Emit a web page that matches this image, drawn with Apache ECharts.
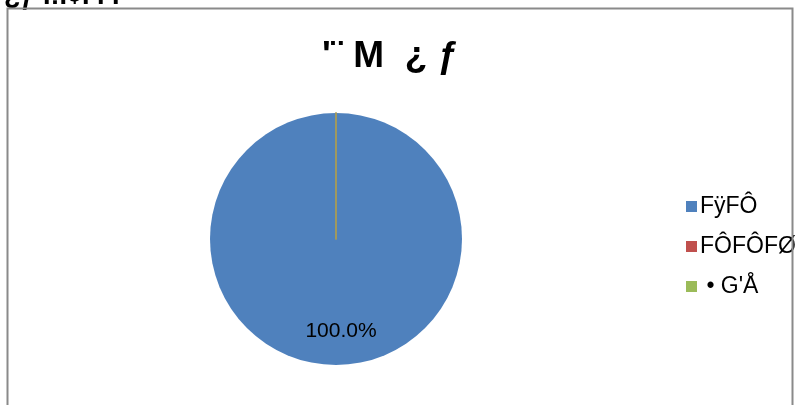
<!DOCTYPE html>
<html>
<head>
<meta charset="utf-8">
<script src="https://cdn.jsdelivr.net/npm/echarts@6/dist/echarts.min.js"></script>
<style>
  html, body { margin: 0; padding: 0; background: #fff; }
  #main { width: 796px; height: 405px; }
</style>
</head>
<body>
<div id="main"></div>
<script>
var categories = ["FÿFÔ", "FÔFÔFØ", " • G'Å"];
var values = [100, 0, 0];
var colors = ['#4f81bd', '#c0504d', '#9bbb59'];

var myChart = echarts.init(document.getElementById("main"));
var option = {
    animation: false,
    backgroundColor: '#fff',
    textStyle: { fontFamily: 'Liberation Sans' },
    title: {
        text: "'¨ M  ¿ ƒ",
        left: 385,
        top: 33,
        textAlign: 'center',
        textStyle: { fontSize: 37, fontWeight: 'bold', color: '#000', fontFamily: 'Liberation Sans' }
    },
    legend: {
        orient: 'vertical',
        left: 681,
        top: 190,
        itemWidth: 11,
        itemHeight: 11,
        itemGap: 17,
        icon: 'rect',
        itemStyle: { borderWidth: 0 },
        textStyle: { fontSize: 23, color: '#000', padding: [0, 0, 0, -2] },
        data: categories
    },
    graphic: [
        {   // outer chart frame
            type: 'rect',
            shape: { x: 7.5, y: 8.5, width: 785, height: 420 },
            style: { fill: null, stroke: '#8a8a8a', lineWidth: 2 },
            z: 10
        },
        {   // cut-off sheet heading above frame
            type: 'text',
            left: 4,
            top: -17,
            style: { text: '¿ƒ Ì:Ì¢Ì Ì Ì', fontSize: 27, fontWeight: 'bold', fill: '#000', fontFamily: 'Liberation Sans' }
        }
    ],
    series: [{
        name: 'pie',
        type: 'pie',
        center: [336, 239],
        radius: 126,
        startAngle: 90,
        clockwise: true,
        avoidLabelOverlap: false,
        label: {
            show: true,
            position: 'inside',
            offset: [5, 26],
            fontSize: 21,
            color: '#000',
            formatter: function (p) {
                return p.value > 0 ? p.percent.toFixed(1) + '%' : '';
            }
        },
        labelLine: { show: false },
        emphasis: { disabled: true },
        data: categories.map(function (c, i) {
            return {
                name: c,
                value: values[i],
                itemStyle: {
                    color: colors[i],
                    borderColor: values[i] > 0 ? colors[i] : '#a59a5a',
                    borderWidth: values[i] > 0 ? 0 : 1.5
                }
            };
        })
    }]
};
myChart.setOption(option);
</script>
</body>
</html>
